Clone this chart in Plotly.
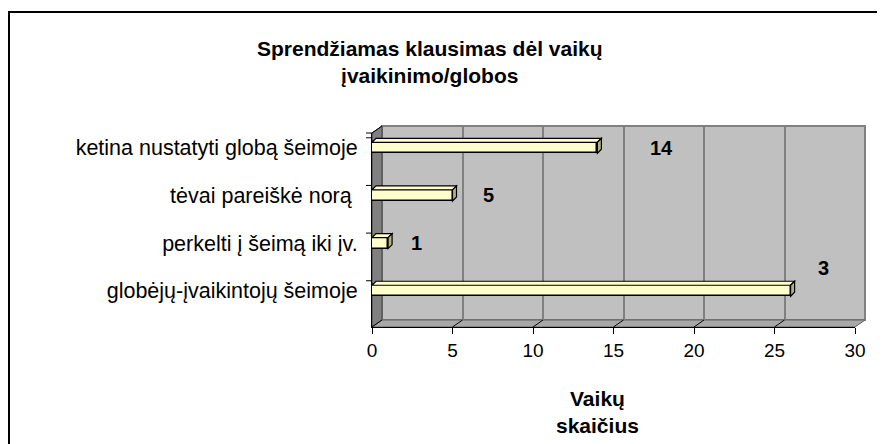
import plotly.graph_objects as go

# duomenys
categories = ["globėjų-įvaikintojų šeimoje", "perkelti į šeimą iki įv.",
              "tėvai pareiškė norą ", "ketina nustatyti globą šeimoje"]
values = [26, 1, 5, 14]
value_labels = ["3", "1", "5", "14"]
x_ticks = [0, 5, 10, 15, 20, 25, 30]

W, H = 885, 444
OFF = 8  # default body margin of the html page
# plot area in pixels (union of front plane and back wall)
L, R, T, B = 372, 865, 126, 327
PW, PH = R - L, B - T


def px(x):
    return (x - L) / PW


def py(y):
    return (B - y) / PH


FONT = "Liberation Sans, Arial, sans-serif"
BAR_W = 0.23
Y_RANGE = [-0.76, 3.31]
DEPTH = 4  # 3d bar depth in px
UNIT_PX = (855 - 372) / 30.0

fig = go.Figure()

# back wall subplot (only gridlines)
fig.add_trace(go.Scatter(x=[], y=[], xaxis="x", yaxis="y", showlegend=False))

# front plane: the bars
fig.add_trace(go.Bar(
    x=values, y=categories, orientation="h", xaxis="x2", yaxis="y2",
    width=BAR_W, marker=dict(color="#FFFFCC", line=dict(color="black", width=1.5)),
    showlegend=False, hoverinfo="x+y",
))

shapes = []
# outer frame
shapes.append(dict(type="rect", xref="paper", yref="paper",
                   x0=px(9), x1=px(900), y0=py(12), y1=py(460),
                   line=dict(color="black", width=2), fillcolor="rgba(0,0,0,0)", layer="below"))
# back wall
shapes.append(dict(type="rect", xref="paper", yref="paper",
                   x0=px(382), x1=px(865), y0=py(320), y1=py(126),
                   line=dict(color="#808080", width=2), fillcolor="#C0C0C0", layer="below"))
# left wall
shapes.append(dict(type="path", xref="paper", yref="paper",
                   path=f"M{px(372)},{py(133)} L{px(382)},{py(126)} L{px(382)},{py(320)} L{px(372)},{py(327)} Z",
                   line=dict(color="#404040", width=1), fillcolor="#808080", layer="below"))
# floor
shapes.append(dict(type="path", xref="paper", yref="paper",
                   path=f"M{px(372)},{py(327)} L{px(382)},{py(320)} L{px(865)},{py(320)} L{px(855)},{py(327)} Z",
                   line=dict(color="#606060", width=1), fillcolor="#A8A8A8", layer="below"))
# floor diagonal tick lines
for v in x_ticks:
    shapes.append(dict(type="line", xref="x2", xsizemode="pixel", xanchor=v,
                       yref="paper", ysizemode="pixel", yanchor=0,
                       x0=0, x1=10, y0=0, y1=7, line=dict(color="black", width=1)))
# y tick marks of the category axis
for i in range(len(categories)):
    shapes.append(dict(type="line", xref="paper", xsizemode="pixel", xanchor=0,
                       yref="y2", x0=-6, x1=0, y0=i + 0.21, y1=i + 0.21,
                       line=dict(color="black", width=1)))
shapes.append(dict(type="line", xref="paper", yref="paper",
                   x0=px(366), x1=px(372), y0=py(133), y1=py(133), line=dict(color="black", width=1)))
shapes.append(dict(type="line", xref="paper", yref="paper",
                   x0=px(372), x1=px(382), y0=py(133), y1=py(126), line=dict(color="black", width=1)))

# 3d faces of the bars
hpx = 5.5
dx = DEPTH / UNIT_PX
for i, v in enumerate(values):
    # top face
    shapes.append(dict(type="path", xref="x2", yref="y2", ysizemode="pixel", yanchor=i,
                       path=f"M0,{hpx} L{v},{hpx} L{v + dx},{hpx + DEPTH} L{dx},{hpx + DEPTH} Z",
                       fillcolor="#FFFFCC", line=dict(color="black", width=1.2), layer="above"))
    # right face
    shapes.append(dict(type="path", xref="x2", xsizemode="pixel", xanchor=v,
                       yref="y2", ysizemode="pixel", yanchor=i,
                       path=f"M0,{hpx} L{DEPTH},{hpx + DEPTH} L{DEPTH},{-hpx + DEPTH} L0,{-hpx} Z",
                       fillcolor="#B0B080", line=dict(color="black", width=1.2), layer="above"))

# data labels (placement as in the original)
label_shift = [(25, 23), (21, 0), (28, 0), (51, 0)]
annotations = []
for i, (v, t) in enumerate(zip(values, value_labels)):
    annotations.append(dict(x=v, y=i, xref="x2", yref="y2", text=f"<b>{t}</b>",
                            showarrow=False, xanchor="left", yanchor="middle",
                            xshift=label_shift[i][0], yshift=label_shift[i][1],
                            font=dict(family=FONT, size=20, color="black")))
# chart title
annotations.append(dict(x=px(430), y=py(35), xref="paper", yref="paper",
                        text="<b>Sprendžiamas klausimas dėl vaikų<br>įvaikinimo/globos</b>",
                        showarrow=False, xanchor="center", yanchor="top",
                        font=dict(family=FONT, size=21, color="black")))
# axis title
annotations.append(dict(x=px(597), y=py(385), xref="paper", yref="paper",
                        text="<b>Vaikų<br>skaičius</b>", showarrow=False,
                        xanchor="center", yanchor="top",
                        font=dict(family=FONT, size=21, color="black")))

fig.update_layout(
    width=W, height=H,
    margin=dict(l=L - OFF, r=W - R + OFF, t=T - OFF, b=H - B + OFF, pad=0),
    paper_bgcolor="white", plot_bgcolor="rgba(0,0,0,0)",
    xaxis=dict(domain=[px(382), 1], anchor="y", range=[0, 30], dtick=5,
               showgrid=True, gridcolor="#808080", gridwidth=1.5,
               showticklabels=False, zeroline=False, showline=False, ticks=""),
    yaxis=dict(domain=[py(320), 1], anchor="x", range=[0, 1], visible=False),
    xaxis2=dict(domain=[0, px(855)], anchor="y2", range=[0, 30], tickvals=x_ticks,
                showgrid=False, zeroline=False, showline=True, linecolor="black", linewidth=1,
                ticks="outside", ticklen=6, tickcolor="black",
                tickfont=dict(family=FONT, size=19, color="black")),
    yaxis2=dict(domain=[0, py(133)], anchor="x2", type="category",
                categoryorder="array", categoryarray=categories, range=Y_RANGE,
                showgrid=False, zeroline=False, showline=True, linecolor="black", linewidth=1,
                ticks="", ticklabelstandoff=9,
                tickfont=dict(family=FONT, size=21.5, color="black")),
    shapes=shapes, annotations=annotations,
    bargap=0,
)

fig.write_html("out.html")
